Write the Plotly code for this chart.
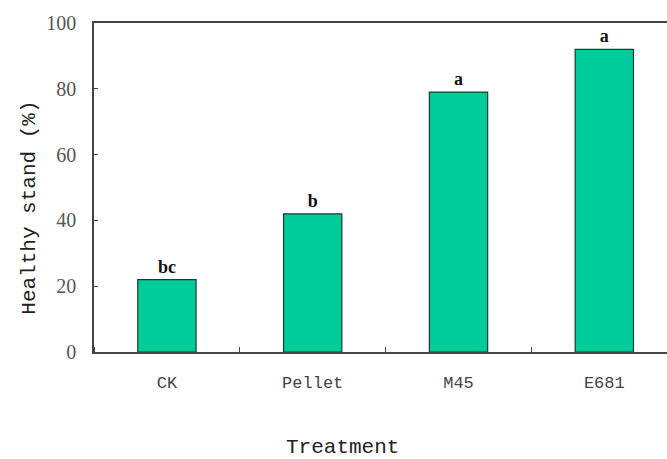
import plotly.graph_objects as go

treatments = ["CK", "Pellet", "M45", "E681"]
healthy_stand = [22, 42, 79, 92]
letters = ["bc", "b", "a", "a"]
y_ticks = [0, 20, 40, 60, 80, 100]

fig = go.Figure()
fig.add_trace(go.Bar(
    x=list(range(len(treatments))),
    y=healthy_stand,
    width=0.4,
    marker=dict(color="#00CC99", line=dict(color="#1d3b32", width=1.2)),
    text=letters,
    textposition="outside",
    textfont=dict(family="Liberation Serif", size=18, color="#111111", weight="bold"),
    cliponaxis=False,
))

title_font = dict(family="Liberation Mono", size=21, color="#222222")

fig.update_layout(
    width=667, height=459,
    margin=dict(l=94, r=0, t=23, b=107),
    paper_bgcolor="white", plot_bgcolor="white",
    showlegend=False,
    font=dict(family="Liberation Mono", color="#333333"),
    xaxis=dict(
        range=[-0.5, 3.43],
        tickmode="array",
        tickvals=list(range(len(treatments))),
        ticktext=treatments,
        showgrid=False, zeroline=False,
        showline=True, linecolor="#444444", linewidth=1.5, mirror=True,
        ticks="",
        ticklabelstandoff=14,
        minor=dict(tickmode="linear", tick0=0.5, dtick=1, ticks="inside",
                   ticklen=5, tickcolor="#444444", tickwidth=1.2, showgrid=False),
        tickfont=dict(family="Liberation Mono", size=17, color="#444444"),
    ),
    yaxis=dict(
        range=[0, 100],
        tickmode="array",
        tickvals=y_ticks,
        showgrid=False, zeroline=False,
        showline=True, linecolor="#444444", linewidth=1.5,
        ticks="inside", ticklen=4, tickcolor="#444444",
        ticklabelstandoff=12,
        tickfont=dict(family="Liberation Serif", size=20, color="#555555"),
    ),
    annotations=[
        dict(text="Treatment", xref="paper", yref="paper", x=0.433, y=-0.289,
             xanchor="center", yanchor="middle", showarrow=False, font=title_font),
        dict(text="Healthy stand (%)", xref="paper", yref="paper", x=-0.112, y=0.438,
             xanchor="center", yanchor="middle", textangle=-90, showarrow=False, font=title_font),
    ],
)

fig.write_html("out.html")
